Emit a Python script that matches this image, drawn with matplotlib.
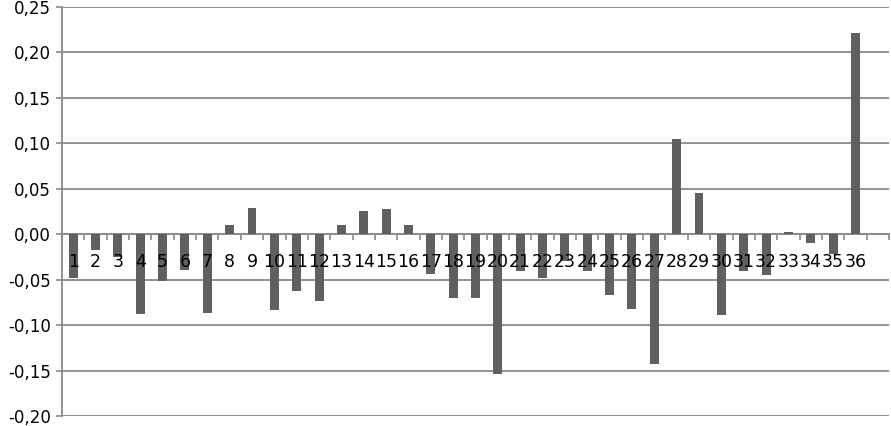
import numpy as np
import matplotlib.pyplot as plt
from matplotlib.ticker import FixedLocator, FuncFormatter

# category labels (last slot is empty in the original chart)
labels = [str(i) for i in range(1, 37)] + [""]

# bar values
values = [-0.048, -0.017, -0.025, -0.088, -0.051, -0.039, -0.087, 0.010, 0.029,
          -0.083, -0.063, -0.074, 0.010, 0.025, 0.028, 0.010, -0.044, -0.070,
          -0.070, -0.154, -0.041, -0.048, -0.030, -0.041, -0.067, -0.082,
          -0.143, 0.105, 0.045, -0.089, -0.041, -0.045, 0.002, -0.010,
          -0.022, 0.221, np.nan]

y_ticks = [-0.20, -0.15, -0.10, -0.05, 0.00, 0.05, 0.10, 0.15, 0.20, 0.25]

plt.rcParams['font.family'] = ['DejaVu Sans']

fig = plt.figure(figsize=(8.91, 4.26), dpi=100)
ax = fig.add_axes([62 / 891, 10 / 426, 827 / 891, 409 / 426])

x = np.arange(len(labels))
ax.bar(x, values, width=0.4, color='#606060', zorder=3)

ax.set_xlim(-0.5, len(labels) - 0.5)
ax.set_ylim(-0.20, 0.25)
ax.set_yticks(y_ticks)
ax.yaxis.set_major_formatter(FuncFormatter(lambda v, p: f"{v:.2f}".replace('.', ',').replace('-0,00', '0,00')))
ax.grid(axis='y', color='#8a8a8a', linewidth=1.3, zorder=0)

# category labels sit on top of the bars, just under the zero line
ax.set_xticks(x)
ax.set_xticklabels([])
for xi, lab in zip(x, labels):
    ax.annotate(lab, (xi, 0), xytext=(0, -20), textcoords='offset points',
                ha='center', va='center', fontsize=12.5, color='black', zorder=5)
ax.xaxis.set_minor_locator(FixedLocator(np.arange(-0.5, len(labels), 1.0)))

for s in ['top', 'right']:
    ax.spines[s].set_visible(False)
ax.spines['bottom'].set_position(('data', 0))
ax.spines['bottom'].set_color('#8a8a8a')
ax.spines['left'].set_color('#8a8a8a')
ax.spines['bottom'].set_linewidth(1.3)
ax.spines['left'].set_linewidth(1.3)

ax.tick_params(axis='x', which='major', length=0)
ax.tick_params(axis='x', which='minor', length=4, width=1.2, color='#8a8a8a', direction='out')
ax.tick_params(axis='y', length=4, width=1.2, color='#8a8a8a', labelsize=12, pad=4)

fig.savefig('out.png', dpi=100)
